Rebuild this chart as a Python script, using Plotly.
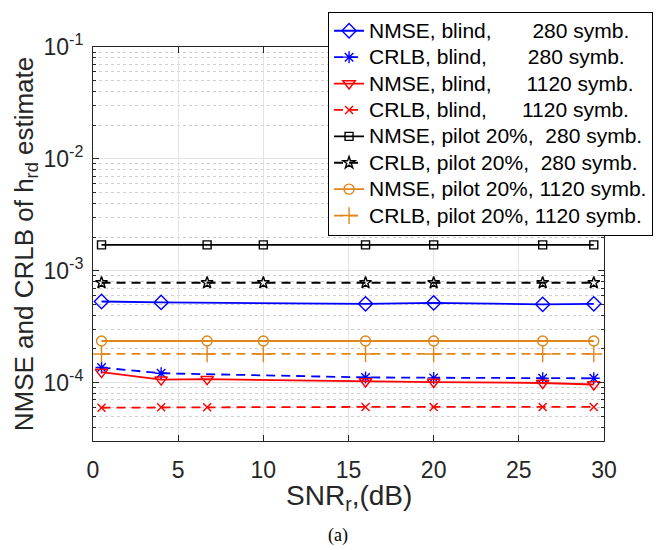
import plotly.graph_objects as go

# SNR_r grid (dB) at which each curve was evaluated
snr_b = [0.5, 4, 16, 20, 26.4, 29.4]                # blind, 280 symbols
snr_c = [0.5, 4, 6.7, 16, 20, 26.4, 29.4]           # blind, 1120 symbols
snr_d = [0.5, 6.7, 10, 16, 20, 26.4, 29.4]          # pilot 20 %

nmse_blind_280 = [5.3e-4, 5.2e-4, 5.05e-4, 5.15e-4, 5.0e-4, 5.05e-4]
crlb_blind_280 = [1.36e-4, 1.21e-4, 1.11e-4, 1.10e-4, 1.09e-4, 1.09e-4]
nmse_blind_1120 = [1.24e-4, 1.06e-4, 1.07e-4, 1.02e-4, 1.01e-4, 0.99e-4, 0.96e-4]
crlb_blind_1120 = [5.95e-5, 6.0e-5, 6.0e-5, 6.05e-5, 6.05e-5, 6.05e-5, 6.05e-5]
nmse_pilot_280 = [1.7e-3, 1.7e-3, 1.7e-3, 1.7e-3, 1.7e-3, 1.7e-3, 1.7e-3]
crlb_pilot_280 = [7.8e-4, 7.8e-4, 7.8e-4, 7.8e-4, 7.8e-4, 7.8e-4, 7.8e-4]
nmse_pilot_1120 = [2.35e-4, 2.35e-4, 2.35e-4, 2.35e-4, 2.35e-4, 2.35e-4, 2.35e-4]
crlb_pilot_1120 = [1.8e-4, 1.8e-4, 1.8e-4, 1.8e-4, 1.8e-4, 1.8e-4, 1.8e-4]

x_ticks = [0, 5, 10, 15, 20, 25, 30]
y_decades = [1e-4, 1e-3, 1e-2, 1e-1]
y_decade_text = ["10<sup>-4</sup>", "10<sup>-3</sup>", "10<sup>-2</sup>", "10<sup>-1</sup>"]

NB = "\u00a0"
labels = [
    "NMSE, blind," + NB * 7 + "280 symb.",
    "CRLB, blind," + NB * 7 + "280 symb.",
    "NMSE, blind," + NB * 6 + "1120 symb.",
    "CRLB, blind," + NB * 6 + "1120 symb.",
    "NMSE, pilot 20%," + NB * 2 + "280 symb.",
    "CRLB, pilot 20%," + NB * 2 + "280 symb.",
    "NMSE, pilot 20%, 1120 symb.",
    "CRLB, pilot 20%, 1120 symb.",
]
# legend rows stay compact while the label glyphs are drawn a bit larger
names = ['<span style="font-size:21px">' + s + "</span>" for s in labels]

ORANGE = "#E0861A"
DASH = "9px,6px"

series = [
    (snr_b, nmse_blind_280, "#0000FF", "solid", "diamond-open", 11),
    (snr_b, crlb_blind_280, "#0000FF", DASH, "asterisk-open", 10),
    (snr_c, nmse_blind_1120, "#FF0000", "solid", "triangle-down-open", 11),
    (snr_c, crlb_blind_1120, "#FF0000", DASH, "x-thin-open", 8),
    (snr_d, nmse_pilot_280, "#000000", "solid", "square-open", 8),
    (snr_d, crlb_pilot_280, "#000000", DASH, "star-open", 9),
    (snr_d, nmse_pilot_1120, ORANGE, "solid", "circle-open", 10),
    (snr_d, crlb_pilot_1120, ORANGE, DASH, "cross-thin-open", 12),
]

fig = go.Figure()
for (x, y, col, dash, sym, size), name in zip(series, names):
    fig.add_trace(go.Scatter(
        x=x, y=y, name=name, mode="lines+markers",
        line=dict(color=col, width=1.8, dash=dash),
        marker=dict(symbol=sym, size=size, color=col,
                    line=dict(color=col, width=1.4)),
    ))

FONT = "Liberation Sans, Arial, Helvetica, sans-serif"
AX = "#262626"
minor_vals = [m * d for d in [1e-5, 1e-4, 1e-3, 1e-2] for m in range(2, 10)]

# plot area in pixels: x 93..612, y 41..441
L, R, T, B = 93, 612, 41, 441
W, H = R - L, B - T

fig.update_layout(
    width=665, height=550,
    margin=dict(l=L, r=665 - R, t=T, b=550 - B),
    paper_bgcolor="white", plot_bgcolor="white",
    font=dict(family=FONT, color=AX, size=23),
    showlegend=True,
    legend=dict(
        x=1.096, xanchor="right", y=1.09, yanchor="top",
        bgcolor="white", bordercolor="#000000", borderwidth=1,
        font=dict(family=FONT, size=18, color="#000000"),
        itemwidth=30, tracegroupgap=0,
    ),
    xaxis=dict(
        range=[0, 30], tickvals=x_ticks,
        showline=True, linecolor=AX, linewidth=1, mirror="ticks",
        ticks="inside", ticklen=6, tickcolor=AX,
        showgrid=True, gridcolor="#E3E3E3", gridwidth=1, zeroline=False,
        tickfont=dict(size=23, color=AX), ticklabelstandoff=8,
    ),
    yaxis=dict(
        type="log", range=[-4.523, -1],
        tickvals=y_decades, ticktext=y_decade_text,
        showline=True, linecolor=AX, linewidth=1, mirror="ticks",
        ticks="inside", ticklen=6, tickcolor=AX,
        showgrid=True, gridcolor="#E3E3E3", gridwidth=1, zeroline=False,
        tickfont=dict(size=23, color=AX), ticklabelstandoff=4,
        minor=dict(tickvals=minor_vals, ticks="inside", ticklen=3, tickcolor=AX,
                   showgrid=True, gridcolor="#CFCFCF", griddash="dot", gridwidth=1),
        title=dict(text="NMSE and CRLB of h<sub>rd</sub> estimate",
                   font=dict(size=26, color=AX), standoff=2),
    ),
    annotations=[
        dict(text="SNR<sub>r</sub>,(dB)", x=0.5, xref="paper",
             y=-(479 - B) / H, yref="paper", yanchor="top", showarrow=False,
             font=dict(family=FONT, size=28, color=AX)),
        dict(text="(a)", x=(342 - L) / W, xref="paper", y=-(537 - B) / H, yref="paper",
             yanchor="middle", showarrow=False,
             font=dict(family="Liberation Serif, Times New Roman, serif", size=18,
                       color="#000000")),
    ],
)

fig.write_html("out.html")
